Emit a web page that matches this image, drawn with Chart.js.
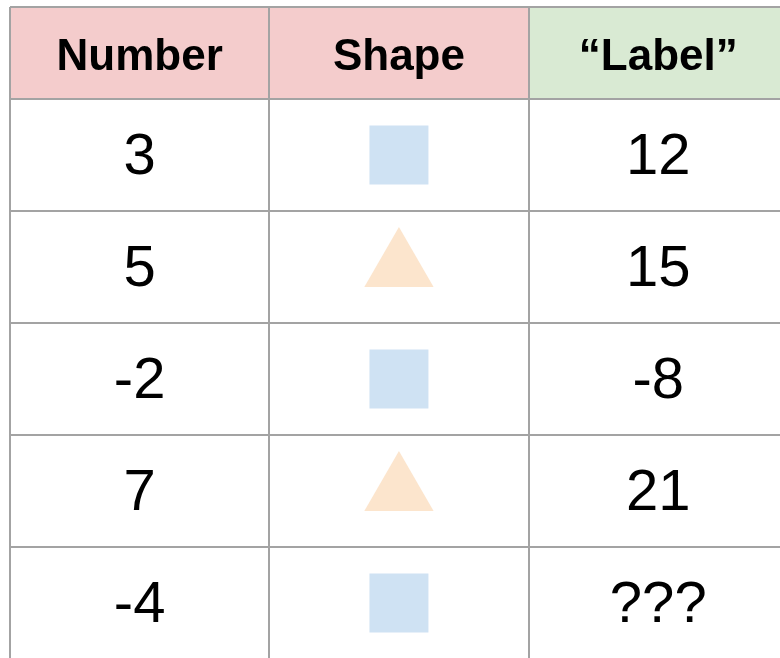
<!DOCTYPE html>
<html>
<head>
<meta charset="utf-8">
<script src="https://cdn.jsdelivr.net/npm/chart.js@4.4.1/dist/chart.umd.min.js"></script>
<style>
  html, body { margin: 0; padding: 0; background: #fff; }
  canvas { display: block; }
</style>
</head>
<body>
<canvas id="chart" width="780" height="658"></canvas>
<script>
// table contents
var headers = ['Number', 'Shape', '\u201cLabel\u201d'];
var numbers = [3, 5, -2, 7, -4];
var shapes = ['square', 'triangle', 'square', 'triangle', 'square'];
var labels = ['12', '15', '-8', '21', '???'];

var headerColors = ['#f4cccc', '#f4cccc', '#d9ead3'];
var shapeColors = { square: '#cfe2f3', triangle: '#fce5cd' };
var lineColor = '#a3a3a3';
var fontFamily = '"Liberation Sans", Arial, sans-serif';

// the header row is shorter than the body rows (in row units)
var headerRows = 92 / 112;

function cellText(ctx, text, xs, ys, col, row, size, bold, nudge) {
    var cx = xs.getPixelForValue(col + 0.5);
    var cy = ys.getPixelForValue(row);
    ctx.font = (bold ? 'bold ' : '') + size + 'px ' + fontFamily;
    ctx.fillText(text, cx, cy + size * 0.716 / 2 + nudge);
}

var tablePlugin = {
    id: 'table',
    beforeDraw: function (chart) {
        var ctx = chart.ctx;
        var xs = chart.scales.x, ys = chart.scales.y;
        ctx.save();
        ctx.fillStyle = '#fff';
        ctx.fillRect(0, 0, chart.width, chart.height);
        var top = ys.getPixelForValue(-headerRows);
        var bottom = ys.getPixelForValue(0);
        headers.forEach(function (h, i) {
            var left = xs.getPixelForValue(i);
            var right = xs.getPixelForValue(i + 1);
            ctx.fillStyle = headerColors[i];
            ctx.fillRect(left, top, right - left, bottom - top);
        });
        ctx.restore();
    },
    afterDraw: function (chart) {
        var ctx = chart.ctx;
        var xs = chart.scales.x, ys = chart.scales.y;
        ctx.save();
        ctx.fillStyle = '#000';
        ctx.textAlign = 'center';
        ctx.textBaseline = 'alphabetic';
        headers.forEach(function (h, i) {
            cellText(ctx, h, xs, ys, i, -headerRows / 2, 44, true, 1);
        });
        numbers.forEach(function (n, i) {
            cellText(ctx, String(n), xs, ys, 0, i + 0.5, 58, false, -2);
            cellText(ctx, labels[i], xs, ys, 2, i + 0.5, 58, false, -2);
        });
        ctx.restore();
    }
};

var ctx = document.getElementById('chart').getContext('2d');
var chart = new Chart(ctx, {
    type: 'scatter',
    data: {
        datasets: [{
            data: numbers.map(function (n, i) { return { x: 1.5, y: i + 0.5 }; }),
            pointStyle: function (c) { return shapes[c.dataIndex] === 'square' ? 'rect' : 'triangle'; },
            pointRadius: function (c) { return shapes[c.dataIndex] === 'square' ? 41.7 : 40; },
            pointHoverRadius: function (c) { return shapes[c.dataIndex] === 'square' ? 41.7 : 40; },
            pointBackgroundColor: function (c) { return shapeColors[shapes[c.dataIndex]]; },
            pointBorderWidth: 0,
            pointHoverBorderWidth: 0,
            clip: false
        }]
    },
    options: {
        responsive: false,
        devicePixelRatio: 1,
        animation: false,
        events: [],
        layout: { autoPadding: false, padding: { left: 10, top: 7, right: 0, bottom: 0 } },
        scales: {
            x: {
                type: 'linear',
                min: 0,
                max: 770 / 259.3,
                border: { display: false },
                grid: { color: lineColor, lineWidth: 2, drawTicks: false },
                ticks: { display: false },
                afterBuildTicks: function (s) {
                    s.ticks = headers.map(function (h, i) { return { value: i }; });
                },
                afterFit: function (s) { s.height = 0; }
            },
            y: {
                type: 'linear',
                reverse: true,
                min: -headerRows,
                max: 559 / 112,
                border: { display: false },
                grid: { color: lineColor, lineWidth: 2, drawTicks: false },
                ticks: { display: false },
                afterBuildTicks: function (s) {
                    s.ticks = [{ value: -headerRows }].concat(numbers.map(function (n, i) { return { value: i }; }));
                },
                afterFit: function (s) { s.width = 0; }
            }
        },
        plugins: {
            legend: { display: false },
            tooltip: { enabled: false }
        }
    },
    plugins: [tablePlugin]
});
</script>
</body>
</html>
